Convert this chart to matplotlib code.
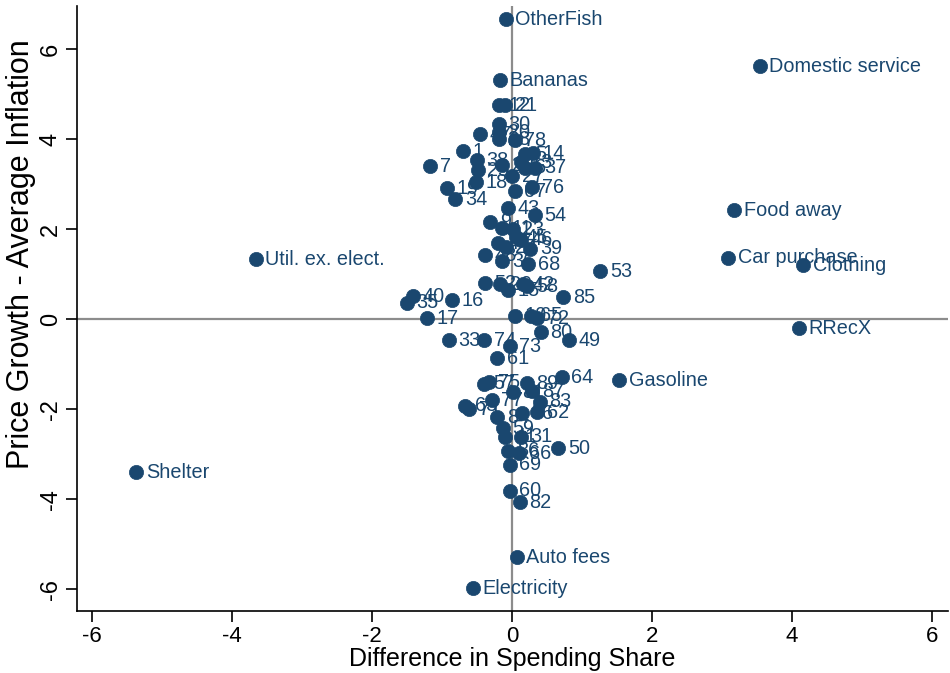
import matplotlib
matplotlib.use("Agg")
import matplotlib.pyplot as plt

plt.rcParams["font.family"] = ["Liberation Sans", "DejaVu Sans"]

# Named spending categories
named_labels = ["OtherFish", "Bananas", "Domestic service", "Food away", "Car purchase",
                "Clothing", "RRecX", "Gasoline", "Util. ex. elect.", "Shelter",
                "Auto fees", "Electricity"]
named_x = [-0.09, -0.17, 3.54, 3.17, 3.09, 4.16, 4.10, 1.53, -3.66, -5.36, 0.07, -0.56]
named_y = [6.67, 5.31, 5.62, 2.42, 1.36, 1.20, -0.20, -1.36, 1.33, -3.40, -5.29, -5.98]

# Numbered categories
num_labels = ["12", "21", "30", "20", "47", "28", "78", "1", "5", "14",
              "7", "38", "25", "18", "22", "27", "6", "37", "13", "67",
              "76", "19", "34", "43", "54", "9", "11", "23", "45", "46",
              "44", "24", "39", "48", "36", "68", "53", "52", "29", "15",
              "42", "58", "85", "16", "40", "35", "17", "10", "65", "72",
              "80", "49", "33", "74", "73", "61", "64", "57", "75", "89",
              "81", "87", "83", "77", "63", "71", "84", "56", "62", "59",
              "41", "31", "50", "86", "66", "69", "60", "82"]
num_x = [-0.19, -0.10, -0.19, -0.19, -0.46, -0.19, 0.04, -0.70, 0.19, 0.30,
         -1.17, -0.50, -0.49, -0.51, -0.14, 0.00, 0.19, 0.33, 0.13, 0.04,
         0.29, -0.93, -0.81, -0.06, 0.33, -0.31, -0.14, 0.01, 0.06, 0.13,
         -0.20, -0.09, 0.26, -0.39, -0.14, 0.23, 1.26, -0.39, -0.17, -0.06,
         0.16, 0.21, 0.73, -0.86, -1.41, -1.50, -1.21, 0.04, 0.27, 0.36,
         0.41, 0.81, -0.90, -0.40, -0.03, -0.21, 0.71, -0.40, -0.33, 0.21,
         0.01, 0.29, 0.40, -0.29, -0.67, -0.61, -0.21, 0.14, 0.36, -0.13,
         -0.10, 0.13, 0.66, -0.06, 0.10, -0.03, -0.03, 0.11]
num_y = [4.76, 4.76, 4.33, 4.16, 4.11, 4.00, 3.98, 3.73, 3.67, 3.69,
         3.40, 3.53, 3.31, 3.04, 3.42, 3.18, 3.36, 3.36, 3.49, 2.84,
         2.93, 2.91, 2.67, 2.47, 2.31, 2.16, 2.02, 2.00, 1.82, 1.76,
         1.69, 1.60, 1.56, 1.42, 1.29, 1.22, 1.07, 0.80, 0.78, 0.64,
         0.78, 0.73, 0.49, 0.42, 0.51, 0.36, 0.02, 0.07, 0.07, 0.02,
         -0.29, -0.47, -0.47, -0.47, -0.60, -0.87, -1.29, -1.44, -1.40, -1.42,
         -1.62, -1.60, -1.84, -1.80, -1.93, -2.00, -2.18, -2.09, -2.07, -2.42,
         -2.62, -2.62, -2.87, -2.93, -2.98, -3.24, -3.82, -4.07]

x_ticks = [-6, -4, -2, 0, 2, 4, 6]
y_ticks = [-6, -4, -2, 0, 2, 4, 6]

navy = "#1a476f"

fig = plt.figure(figsize=(9.5, 6.73), dpi=100)
ax = fig.add_axes([0.081, 0.092, 0.917, 0.899])

ax.axhline(0, color="#8c8c8c", lw=1.6, zorder=1)
ax.axvline(0, color="#8c8c8c", lw=1.6, zorder=1)

all_x = named_x + num_x
all_y = named_y + num_y
all_lab = named_labels + num_labels

for lx, ly, lab in zip(all_x, all_y, all_lab):
    ax.annotate(lab, (lx, ly), xytext=(7, 0), textcoords="offset points",
                va="center", ha="left", fontsize=14.3, color=navy, zorder=2)

ax.scatter(all_x, all_y, s=105, color=navy, edgecolors=navy, linewidths=0.5, zorder=3)

ax.set_xlim(-6.21, 6.23)
ax.set_ylim(-6.49, 6.96)
ax.set_xticks(x_ticks)
ax.set_yticks(y_ticks)
ax.set_xticklabels([str(t) for t in x_ticks], fontsize=16)
ax.set_yticklabels([str(t) for t in y_ticks], fontsize=17, rotation=90, va="center")
ax.tick_params(direction="out", length=8, width=1.2, pad=3)

for side in ["top", "right"]:
    ax.spines[side].set_visible(False)
for side in ["left", "bottom"]:
    ax.spines[side].set_linewidth(1.2)

ax.set_xlabel("Difference in Spending Share", fontsize=18, labelpad=0)
ax.set_ylabel("Price Growth - Average Inflation", fontsize=22)
ax.yaxis.set_label_coords(-0.047, 0.59)

fig.savefig("out.png", dpi=100)
